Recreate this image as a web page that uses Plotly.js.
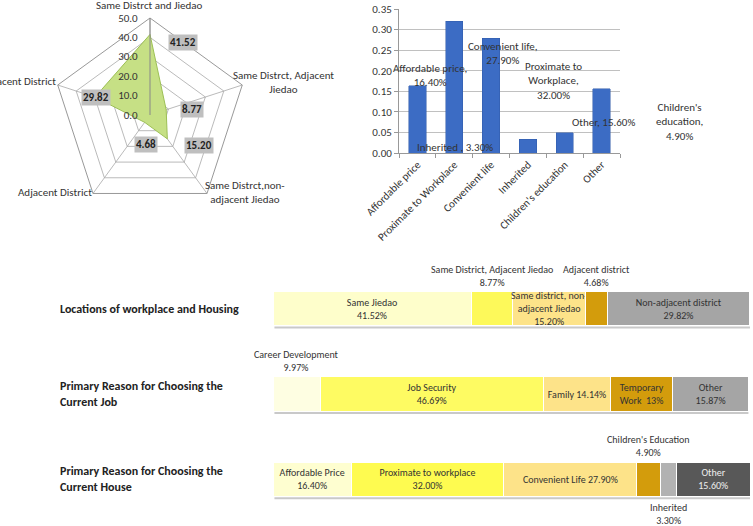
<!DOCTYPE html>
<html><head><meta charset="utf-8">
<script src="https://cdn.plot.ly/plotly-3.0.1.min.js"></script>
<style>html,body{margin:0;padding:0;background:#fff}#chart{width:753px;height:526px}</style>
</head><body><div id="chart"></div>
<script>
// ---------- data ----------
const radarCats = ['Same Distrct and Jiedao', 'Same Distrct, Adjacent Jiedao', 'Same Distrct,non-adjacent Jiedao', 'Adjacent District', 'Non-adjacent District'];
const radarVals = [41.52, 8.77, 15.20, 4.68, 29.82];
const radarAxisLabels = ['Same Distrct and Jiedao', 'Same Distrct, Adjacent<br>Jiedao', 'Same Distrct,non-<br>adjacent Jiedao', 'Adjacent District', 'Non-adjacent District'];

const houseCats = ['Affordable price', 'Proximate to Workplace', 'Convenient life', 'Inherited', "Children's education", 'Other'];
const houseShares = [0.164, 0.320, 0.279, 0.033, 0.049, 0.156];
const houseBarNotes = ['Affordable price,<br>16.40%', 'Proximate to<br>Workplace,<br>32.00%', 'Convenient life,<br>27.90%', 'Inherited , 3.30%', "Children's<br>education,<br>4.90%", 'Other, 15.60%'];

const rowTitles = ['Locations of workplace and Housing', 'Primary Reason for Choosing the<br>Current Job', 'Primary Reason for Choosing the<br>Current House'];

const locVals = [41.52, 8.77, 15.20, 4.68, 29.82];
const locText = ['Same Jiedao<br>41.52%', 'Same District, Adjacent Jiedao<br>8.77%', 'Same district, non-<br>adjacent Jiedao<br>15.20%', 'Adjacent district<br>4.68%', 'Non-adjacent district<br>29.82%'];
const locWhere = ['in', 'above', 'in', 'above', 'in'];

const jobVals = [9.97, 46.69, 14.14, 13, 15.87];
const jobText = ['Career Development<br>9.97%', 'Job Security<br>46.69%', 'Family 14.14%', 'Temporary<br>Work  13%', 'Other<br>15.87%'];
const jobWhere = ['above', 'in', 'in', 'in', 'in'];

const hsVals = [16.40, 32.00, 27.90, 4.90, 3.30, 15.60];
const hsText = ['Affordable Price<br>16.40%', 'Proximate to workplace<br>32.00%', 'Convenient Life 27.90%', "Children's Education<br>4.90%", 'Inherited<br>3.30%', 'Other<br>15.60%'];
const hsWhere = ['in', 'in', 'in', 'above', 'below', 'in'];

// ---------- styles ----------
const FONT = 'Carlito, "Liberation Sans Narrow", "DejaVu Sans Condensed", sans-serif';
const W = 753, H = 526;
const px = x => x / W, py = y => 1 - y / H;
const locColors = ['#fefecb', '#fdf95a', '#fde389', '#d39c0c', '#a5a5a5'];
const jobColors = ['#fefee2', '#fefb62', '#fde389', '#d39c0c', '#a5a5a5'];
const hsColors = ['#fefed0', '#fefb50', '#fde389', '#d39c0c', '#b2b2b2', '#585858'];
const hsTextColors = ['#333', '#333', '#333', '#333', '#333', '#eee'];

const traces = [];
const annotations = [];
const shapes = [];

// radar
traces.push({
  type: 'scatterpolar', subplot: 'polar',
  r: radarVals.concat([radarVals[0]]), theta: radarCats.concat([radarCats[0]]),
  mode: 'lines', fill: 'toself', fillcolor: '#c6e085',
  line: {color: '#9cbf55', width: 1}, hoverinfo: 'skip', showlegend: false
});
const radarLabelPos = [[168, 34], [180, 101], [184, 137], [134, 136], [81, 89]];
radarVals.forEach((v, i) => annotations.push({
  xref: 'paper', yref: 'paper', x: px(radarLabelPos[i][0]), y: py(radarLabelPos[i][1]),
  text: '<b>' + v.toFixed(2) + '</b>', showarrow: false, bgcolor: '#bfbfbf',
  font: {family: FONT, size: 11, color: '#222'}, borderpad: 1
}));
const radarAxPos = [[149, 6, 'center'], [283, 82, 'center'], [245, 192, 'center'], [94, 193, 'right'], [58, 81, 'right']];
radarAxisLabels.forEach((t, i) => annotations.push({
  xref: 'paper', yref: 'paper', x: px(radarAxPos[i][0]), y: py(radarAxPos[i][1]),
  xanchor: radarAxPos[i][2], yanchor: 'middle', align: 'center',
  text: t, showarrow: false, font: {family: FONT, size: 11, color: '#333'}
}));

// column chart
traces.push({
  type: 'bar', xaxis: 'x', yaxis: 'y', x: houseCats, y: houseShares, width: 0.47,
  marker: {color: '#3c6cc4', line: {color: '#2f5aa8', width: 0.5}}, showlegend: false, hoverinfo: 'skip'
});
const notePos = [[430, 75], [553, 81], [503, 54], [455, 148], [679, 122], [603, 123]];
houseBarNotes.forEach((t, i) => annotations.push({
  xref: 'paper', yref: 'paper', x: px(notePos[i][0]), y: py(notePos[i][1]),
  xanchor: 'center', yanchor: 'middle', align: 'center',
  text: t, showarrow: false, font: {family: FONT, size: 11, color: '#333'}
}));

// stacked rows
function addRow(vals, texts, where, colors, tcolors, row) {
  let cum = 0;
  vals.forEach((v, i) => {
    const inside = where[i] === 'in';
    traces.push({
      type: 'bar', orientation: 'h', xaxis: 'x2', yaxis: 'y2', x: [v], y: [row], width: 0.4,
      marker: {color: colors[i], line: {color: '#ffffff', width: 1}},
      text: [inside ? texts[i] : ''], textposition: inside ? 'inside' : 'none',
      insidetextanchor: 'middle', textangle: 0, constraintext: 'none',
      textfont: {family: FONT, size: 10, color: tcolors ? tcolors[i] : '#333'},
      showlegend: false, hoverinfo: 'skip'
    });
    if (!inside) {
      const above = where[i] === 'above';
      annotations.push({
        xref: 'x2', yref: 'y2', x: cum + v / 2, y: above ? row + 0.2 : row - 0.2,
        yanchor: above ? 'bottom' : 'top', yshift: above ? 1 : -3, align: 'center',
        text: texts[i], showarrow: false, font: {family: FONT, size: 10, color: '#333'}
      });
    }
    cum += v;
  });
  // soft drop shadow under the row
  shapes.push({type: 'line', xref: 'x2', yref: 'y2', x0: 0.3, x1: cum, y0: row - 0.222, y1: row - 0.222,
    line: {color: '#c9c9c9', width: 2}, layer: 'below'});
}
addRow(locVals, locText, locWhere, locColors, null, 2);
addRow(jobVals, jobText, jobWhere, jobColors, null, 1);
addRow(hsVals, hsText, hsWhere, hsColors, hsTextColors, 0);

[2, 1, 0].forEach((row, i) => annotations.push({
  xref: 'paper', yref: 'y2', x: px(58), y: row, xanchor: 'left', yanchor: 'middle', align: 'left',
  text: '<b>' + rowTitles[i] + '</b>', showarrow: false, font: {family: FONT, size: 12, color: '#222'}
}));

const layout = {
  width: W, height: H, margin: {l: 0, r: 0, t: 0, b: 0},
  paper_bgcolor: '#fff', plot_bgcolor: 'rgba(0,0,0,0)',
  font: {family: FONT, size: 11, color: '#333'},
  barmode: 'stack', showlegend: false,
  polar: {
    domain: {x: [px(53), px(247)], y: [py(212), py(18)]},
    gridshape: 'linear', bgcolor: 'rgba(0,0,0,0)',
    radialaxis: {range: [0, 50], dtick: 10, tickformat: '.1f', angle: 90, side: 'counterclockwise', tickangle: 90,
      showline: true, linecolor: '#888', linewidth: 1, gridcolor: '#a8a8a8', gridwidth: 0.8,
      ticks: 'outside', ticklen: 8, tickcolor: 'rgba(0,0,0,0)', layer: 'above traces',
      tickfont: {family: FONT, size: 11, color: '#333'}},
    angularaxis: {direction: 'clockwise', rotation: 90, showticklabels: false, ticks: '',
      linecolor: '#999', gridcolor: '#a8a8a8', gridwidth: 0.8, layer: 'below traces'}
  },
  xaxis: {domain: [px(399), px(620)], tickangle: -45, ticks: 'outside', tickson: 'boundaries', ticklen: 4,
    tickcolor: '#999', showline: true, linecolor: '#999', tickfont: {family: FONT, size: 11, color: '#333'}},
  yaxis: {domain: [py(153), py(9)], range: [0, 0.35], dtick: 0.05, tickformat: '.2f', ticks: 'outside', ticklen: 4,
    tickcolor: '#999', showline: true, linecolor: '#999', gridcolor: '#c0c0c0', zeroline: false,
    tickfont: {family: FONT, size: 11, color: '#333'}},
  xaxis2: {domain: [px(273), px(750)], range: [0, 100], visible: false, fixedrange: true},
  yaxis2: {domain: [py(522), py(266)], range: [-0.5, 2.5], visible: false, fixedrange: true},
  annotations: annotations,
  shapes: shapes
};
Plotly.newPlot('chart', traces, layout, {displayModeBar: false, staticPlot: true});
</script></body></html>
